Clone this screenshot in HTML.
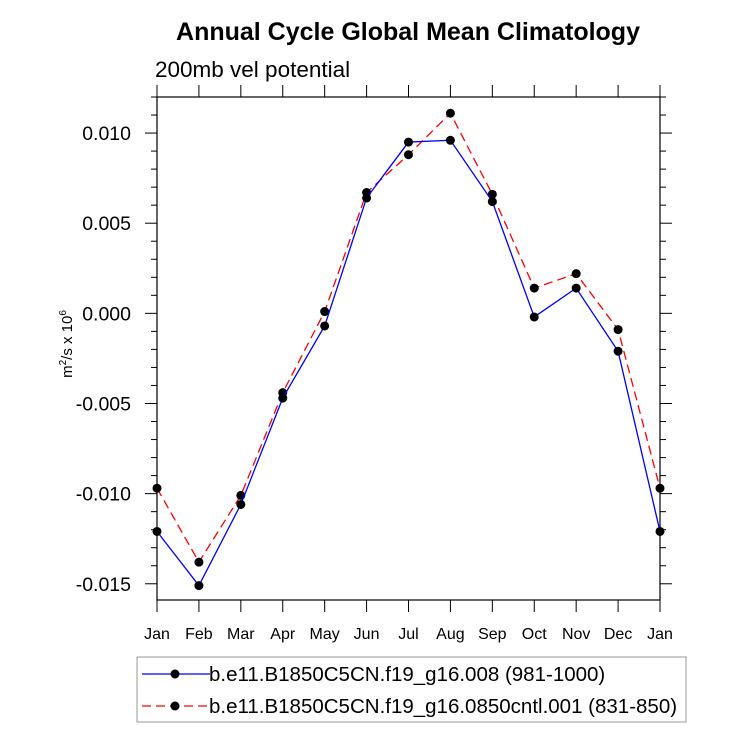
<!DOCTYPE html>
<html><head><meta charset="utf-8"><style>body{margin:0;background:#fff}svg text{font-family:"Liberation Sans",Arial,sans-serif}</style></head>
<body>
<svg width="733" height="746" xmlns="http://www.w3.org/2000/svg">
<text x="408" y="40" text-anchor="middle" font-size="25" font-weight="bold">Annual Cycle Global Mean Climatology</text>
<text x="155" y="77" font-size="22.5">200mb vel potential</text>
<text transform="translate(72,344) rotate(-90)" text-anchor="middle" font-size="15">m<tspan dy="-6" font-size="10">2</tspan><tspan dy="6">/s x 10</tspan><tspan dy="-6" font-size="10">6</tspan></text>
<g id="axes"></g>
<g id="series"></g>
<g>
<rect x="137" y="657" width="549" height="65" fill="none" stroke="#999" stroke-width="1"/>
<line x1="142" y1="674" x2="210" y2="674" stroke="#0000ff" stroke-width="1.2"/>
<circle cx="175" cy="674" r="4.5" fill="#000"/>
<text x="209" y="681" font-size="20.5">b.e11.B1850C5CN.f19_g16.008 (981-1000)</text>
<line x1="142" y1="706" x2="210" y2="706" stroke="#ff0000" stroke-width="1.2" stroke-dasharray="9,5"/>
<circle cx="175" cy="706" r="4.5" fill="#000"/>
<text x="209" y="713" font-size="20.5">b.e11.B1850C5CN.f19_g16.0850cntl.001 (831-850)</text>
</g>
</svg>
<script>
const months=["Jan","Feb","Mar","Apr","May","Jun","Jul","Aug","Sep","Oct","Nov","Dec","Jan"];
const seriesA=[-0.0121,-0.0151,-0.0106,-0.0047,-0.0007,0.0064,0.0095,0.0096,0.0062,-0.0002,0.0014,-0.0021,-0.0121];
const seriesB=[-0.0097,-0.0138,-0.0101,-0.0044,0.0001,0.0067,0.0088,0.0111,0.0066,0.0014,0.0022,-0.0009,-0.0097];
const yTicks=[0.010,0.005,0.000,-0.005,-0.010,-0.015];
const yTickLabels=["0.010","0.005","0.000","-0.005","-0.010","-0.015"];
const NS="http://www.w3.org/2000/svg";
const L=157,R=660,T=97,B=600,yMax=0.0120,yMin=-0.0159;
const xS=i=>L+(R-L)*i/(months.length-1);
const yS=v=>T+(yMax-v)/(yMax-yMin)*(B-T);
function mk(tag,at,parent){const e=document.createElementNS(NS,tag);for(const k in at)e.setAttribute(k,at[k]);parent.appendChild(e);return e;}
const ax=document.getElementById('axes');
const frame=mk('rect',{x:L,y:T,width:R-L,height:B-T,fill:'none',stroke:'#000','stroke-width':1.2},ax);


for(let k=-15;k<=12;k++){const v=k*0.001;const y=yS(v);const major=k%5===0;const len=major?12:6;
 mk('line',{x1:L-len,y1:y,x2:L,y2:y,stroke:'#000','stroke-width':1},ax);
 mk('line',{x1:R,y1:y,x2:R+len,y2:y,stroke:'#000','stroke-width':1},ax);}
yTicks.forEach((v,i)=>{const t=mk('text',{x:L-26,y:yS(v)+7,'text-anchor':'end','font-size':19.5},ax);t.textContent=yTickLabels[i];
 
 });
months.forEach((m,i)=>{const x=xS(i);
 mk('line',{x1:x,y1:B,x2:x,y2:B+12,stroke:'#000','stroke-width':1},ax);
 mk('line',{x1:x,y1:T-12,x2:x,y2:T,stroke:'#000','stroke-width':1},ax);
 const t=mk('text',{x:x,y:B+39,'text-anchor':'middle','font-size':16},ax);t.textContent=m;
 
 });
const sg=document.getElementById('series');
function draw(vals,color,dash,name){
 const p=mk('polyline',{points:vals.map((v,i)=>xS(i)+','+yS(v)).join(' '),fill:'none',stroke:color,'stroke-width':1.3,'stroke-dasharray':dash},sg);
 
 
 vals.forEach((v,i)=>{const c=mk('circle',{cx:xS(i),cy:yS(v),r:4.5,fill:'#000'},sg);
  
  });
}
draw(seriesB,'#ff0000','9,5','series-cntl001');
draw(seriesA,'#0000ff','none','series-b008');
</script>
</body></html>
